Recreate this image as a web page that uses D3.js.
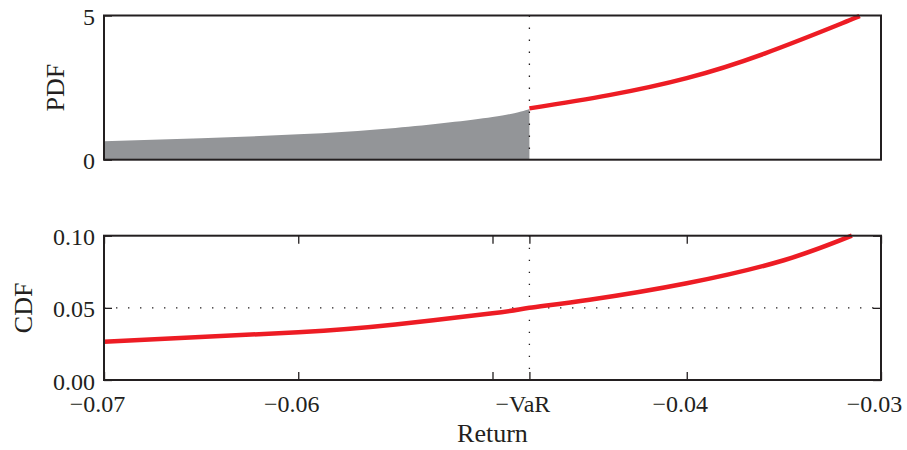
<!DOCTYPE html>
<html>
<head>
<meta charset="utf-8">
<script src="https://cdn.jsdelivr.net/npm/d3@7"></script>
<style>
  html, body { margin: 0; padding: 0; background: #ffffff; }
  svg { display: block; }
  text { font-family: "Liberation Serif", "Times New Roman", serif; fill: #231f20; }
</style>
</head>
<body>
<svg id="chart" width="907" height="450"></svg>
<script>
// ---------- data ----------
const varValue = -0.0481;
const xTickValues = [-0.07, -0.06, -0.05, -0.0481, -0.04, -0.03];
const xTickLabels = ["\u22120.07", "\u22120.06", "", "\u2212VaR", "\u22120.04", "\u22120.03"];

const pdfTickValues = [0, 5];
const pdfTickLabels = ["0", "5"];
const cdfTickValues = [0, 0.05, 0.10];
const cdfTickLabels = ["0.00", "0.05", "0.10"];

// shaded left tail of the PDF (-0.07 .. VaR)
const tailReturns = [-0.070, -0.065, -0.060, -0.055, -0.050, -0.0481];
const tailPdf     = [0.64, 0.74, 0.88, 1.10, 1.48, 1.76];

// red PDF line (VaR .. end)
const bodyReturns = [-0.0481, -0.044, -0.040, -0.036, -0.032, -0.0311];
const bodyPdf     = [1.78, 2.24, 2.83, 3.68, 4.73, 4.98];

// red CDF line
const cdfReturns = [-0.070, -0.060, -0.055, -0.050, -0.0481, -0.045, -0.040, -0.035, -0.0315];
const cdfValues  = [0.0265, 0.0331, 0.0385, 0.0462, 0.0500, 0.0556, 0.0670, 0.0830, 0.1000];

const cdfRefLevel = 0.05;

// ---------- layout ----------
const svg = d3.select("#chart");
const ink = "#231f20";
const red = "#ed1c24";
const grey = "#939598";
const tickFont = "24px";
const titleFont = "26px";
const fontFam = "'Liberation Serif', 'Times New Roman', serif";

const left = 104, right = 881;
const top1 = 15.5, bottom1 = 159.7;
const top2 = 235.7, bottom2 = 380;

const x = d3.scaleLinear().domain([-0.07, -0.03]).range([left, right]);
const yPdf = d3.scaleLinear().domain([0, 5]).range([bottom1, top1]);
const yCdf = d3.scaleLinear().domain([0, 0.10]).range([bottom2, top2]);

svg.append("rect").attr("width", 907).attr("height", 450).attr("fill", "#fff");

const dotted = "1.4,10.6";
const curve = d3.curveNatural;

function styleText(sel, size) {
  sel.style("font-size", size || tickFont).style("font-family", fontFam).attr("fill", ink);
}

// ---------- top panel (PDF) ----------
const gTop = svg.append("g");
const tailData = tailReturns.map((r, i) => ({ r, v: tailPdf[i] }));
const bodyData = bodyReturns.map((r, i) => ({ r, v: bodyPdf[i] }));

gTop.append("path")
  .datum(tailData)
  .attr("fill", grey)
  .attr("d", d3.area().x(d => x(d.r)).y0(yPdf(0)).y1(d => yPdf(d.v)).curve(curve));

gTop.append("line")
  .attr("x1", x(varValue)).attr("x2", x(varValue))
  .attr("y1", yPdf(5)).attr("y2", yPdf(0))
  .attr("stroke", ink).attr("stroke-width", 1.3)
  .attr("stroke-dasharray", dotted);

gTop.append("path")
  .datum(bodyData)
  .attr("fill", "none")
  .attr("stroke", red)
  .attr("stroke-width", 4.5)
  .attr("d", d3.line().x(d => x(d.r)).y(d => yPdf(d.v)).curve(curve));

const axPdf = gTop.append("g").attr("transform", `translate(${left},0)`)
  .call(d3.axisLeft(yPdf).tickValues(pdfTickValues)
    .tickFormat((d, i) => pdfTickLabels[i]).tickSize(-8).tickPadding(9));
axPdf.select(".domain").remove();
axPdf.selectAll("line").attr("stroke", ink).attr("stroke-width", 1.3);
axPdf.selectAll("text").attr("dy", "0.38em").call(styleText);

gTop.append("rect")
  .attr("x", left).attr("y", top1)
  .attr("width", right - left).attr("height", bottom1 - top1)
  .attr("fill", "none").attr("stroke", ink).attr("stroke-width", 2);

gTop.append("text")
  .attr("transform", `translate(64,${(top1 + bottom1) / 2}) rotate(-90)`)
  .attr("text-anchor", "middle")
  .text("PDF").call(styleText, titleFont);

// ---------- bottom panel (CDF) ----------
const gBot = svg.append("g");
const cdfData = cdfReturns.map((r, i) => ({ r, v: cdfValues[i] }));

gBot.append("line")
  .attr("x1", left).attr("x2", right)
  .attr("y1", yCdf(cdfRefLevel)).attr("y2", yCdf(cdfRefLevel))
  .attr("stroke", ink).attr("stroke-width", 1.3)
  .attr("stroke-dasharray", dotted);

gBot.append("line")
  .attr("x1", x(varValue)).attr("x2", x(varValue))
  .attr("y1", yCdf(0.10)).attr("y2", yCdf(0))
  .attr("stroke", ink).attr("stroke-width", 1.3)
  .attr("stroke-dasharray", dotted);

gBot.append("path")
  .datum(cdfData)
  .attr("fill", "none")
  .attr("stroke", red)
  .attr("stroke-width", 4.5)
  .attr("d", d3.line().x(d => x(d.r)).y(d => yCdf(d.v)).curve(curve));

function styleTicks(g) {
  g.select(".domain").remove();
  g.selectAll("line").attr("stroke", ink).attr("stroke-width", 1.3);
}

const axCdfL = gBot.append("g").attr("transform", `translate(${left},0)`)
  .call(d3.axisLeft(yCdf).tickValues(cdfTickValues)
    .tickFormat((d, i) => cdfTickLabels[i]).tickSize(-8).tickPadding(9));
styleTicks(axCdfL);
axCdfL.selectAll("text").attr("dy", "0.38em").call(styleText);

const axCdfR = gBot.append("g").attr("transform", `translate(${right},0)`)
  .call(d3.axisRight(yCdf).tickValues(cdfTickValues).tickFormat("").tickSize(-8));
styleTicks(axCdfR);

const axXTop = gBot.append("g").attr("transform", `translate(0,${top2})`)
  .call(d3.axisTop(x).tickValues(xTickValues).tickFormat("").tickSize(-8));
styleTicks(axXTop);

const axXBot = gBot.append("g").attr("transform", `translate(0,${bottom2})`)
  .call(d3.axisBottom(x).tickValues(xTickValues)
    .tickFormat((d, i) => xTickLabels[i]).tickSize(-8));
styleTicks(axXBot);
axXBot.selectAll("text")
  .attr("y", 32).attr("dy", 0).attr("dx", -7).call(styleText);

gBot.append("rect")
  .attr("x", left).attr("y", top2)
  .attr("width", right - left).attr("height", bottom2 - top2)
  .attr("fill", "none").attr("stroke", ink).attr("stroke-width", 2);

gBot.append("text")
  .attr("transform", `translate(32,${(top2 + bottom2) / 2}) rotate(-90)`)
  .attr("text-anchor", "middle")
  .text("CDF").call(styleText, titleFont);

svg.append("text")
  .attr("x", (left + right) / 2)
  .attr("y", 442)
  .attr("text-anchor", "middle")
  .text("Return").call(styleText, titleFont);
</script>
</body>
</html>
